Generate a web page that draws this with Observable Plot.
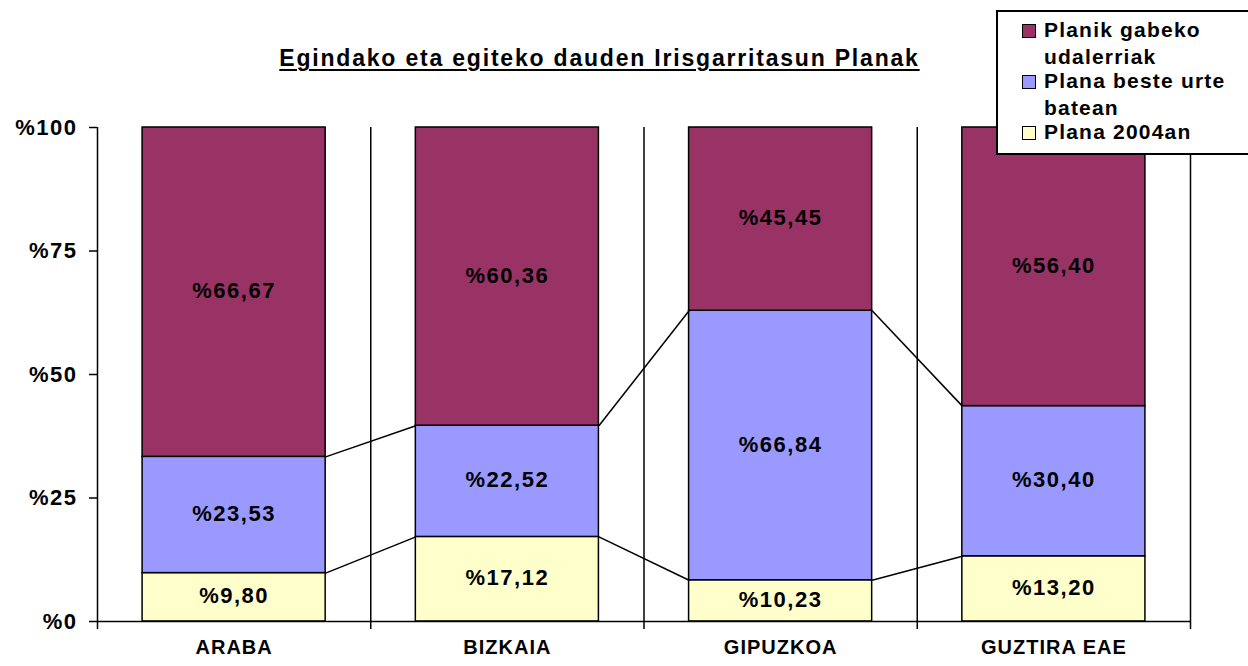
<!DOCTYPE html>
<html>
<head>
<meta charset="utf-8">
<script src="https://cdn.jsdelivr.net/npm/d3@7"></script>
<script src="https://cdn.jsdelivr.net/npm/@observablehq/plot@0.6"></script>
<style>
  html, body { margin: 0; padding: 0; background: #fff; }
  #wrap { position: relative; width: 1248px; height: 666px; overflow: hidden; font-family: "Liberation Sans", Arial, sans-serif; }
  #chart { position: absolute; left: 0; top: 0; }
  #title { position: absolute; left: 0; width: 1199px; top: 44px; text-align: center; font-weight: bold; font-size: 23px; letter-spacing: 1.8px; line-height: 28px; text-decoration: underline; text-decoration-thickness: 2px; text-underline-offset: 3px; color: #000; }
  #legend { position: absolute; left: 996px; top: 10px; width: 262px; height: 145px; border: 2px solid #000; background: #fff; box-sizing: border-box; font-weight: bold; font-size: 21px; letter-spacing: 1.2px; }
  .li { position: absolute; left: 24px; line-height: 26px; white-space: nowrap; }
  .sw { display: inline-block; width: 14px; height: 14px; border: 1.5px solid #000; margin-right: 8px; vertical-align: -1px; box-sizing: border-box; }
  .cont { position: absolute; left: 46px; line-height: 26px; white-space: nowrap; }
</style>
</head>
<body>
<div id="wrap">
  <div id="chart"></div>
  <div id="title"></div>
  <div id="legend"></div>
</div>
<script>
const categories = ["ARABA", "BIZKAIA", "GIPUZKOA", "GUZTIRA EAE"];
const seriesNames = ["Plana 2004an", "Plana beste urte batean", "Planik gabeko udalerriak"];
const plana2004 = [9.80, 17.12, 10.23, 13.20];
const planaBeste = [23.53, 22.52, 66.84, 30.40];
const planikGabe = [66.67, 60.36, 45.45, 56.40];
const yTicks = [0, 0.25, 0.5, 0.75, 1];
const yTickLabels = ["%0", "%25", "%50", "%75", "%100"];
const colors = ["#FFFFCC", "#9999FF", "#993366"];
const titleText = "Egindako eta egiteko dauden Irisgarritasun Planak";

const seriesValues = [plana2004, planaBeste, planikGabe];
const rows = [];
seriesValues.forEach((vals, s) => vals.forEach((v, i) => rows.push({i, cat: categories[i], series: seriesNames[s], value: v})));

const pad = 0.165;
const totals = categories.map((c, i) => seriesValues.reduce((a, vals) => a + vals[i], 0));
const links = [];
for (let s = 0; s < 2; s++) {
  const cum = categories.map((c, i) => seriesValues.slice(0, s + 1).reduce((a, vals) => a + vals[i], 0) / totals[i]);
  for (let i = 0; i < categories.length - 1; i++) {
    links.push({x1: i + 1 - pad, y1: cum[i], x2: i + 1 + pad, y2: cum[i + 1]});
  }
}

const fmt = v => "%" + v.toFixed(2).replace(".", ",");

const chart = Plot.plot({
  width: 1248,
  height: 666,
  marginTop: 127,
  marginBottom: 45,
  marginLeft: 97,
  marginRight: 58,
  style: {fontFamily: "'Liberation Sans', Arial, sans-serif", background: "transparent"},
  x: {domain: [0, categories.length], axis: null},
  y: {domain: [0, 1], axis: null},
  color: {domain: seriesNames, range: colors},
  marks: [
    Plot.ruleX(d3.range(1, categories.length + 1), {y1: 0, y2: 1, stroke: "#000", strokeWidth: 1.5}),
    Plot.axisX(d3.range(0, categories.length + 1), {tickSize: 8, tickFormat: () => "", strokeWidth: 1.5, strokeOpacity: 1}),
    Plot.axisX(d3.range(categories.length).map(i => i + 0.5), {tickSize: 0, tickPadding: 18, tickFormat: v => categories[Math.floor(v)], fontSize: 20, fontWeight: "bold", fill: "#000", className: "catlab"}),
    Plot.axisY(yTicks, {tickSize: 8, tickPadding: 12, tickFormat: v => yTickLabels[yTicks.indexOf(v)], fontSize: 22, fontWeight: "bold", fill: "#000", strokeWidth: 1.5, strokeOpacity: 1}),
    Plot.ruleX([0], {y1: 0, y2: 1, stroke: "#000", strokeWidth: 1.5}),
    Plot.rectY(rows, Plot.stackY({x1: d => d.i + pad, x2: d => d.i + 1 - pad, y: "value", fill: "series", offset: "normalize", stroke: "#000", strokeWidth: 1.5})),
    Plot.link(links, {x1: "x1", y1: "y1", x2: "x2", y2: "y2", stroke: "#000", strokeWidth: 1.5}),
    Plot.text(rows, Plot.stackY({x: d => d.i + 0.5, y: "value", offset: "normalize", text: d => fmt(d.value), fontSize: 22, fontWeight: "bold", fill: "#000", dy: -1})),
    Plot.ruleY([0], {x1: 0, x2: categories.length, stroke: "#000", strokeWidth: 1.5})
  ]
});
chart.querySelectorAll("text").forEach(t => t.setAttribute("letter-spacing", "1.5"));
chart.querySelectorAll(".catlab text").forEach(t => t.setAttribute("letter-spacing", "1"));
document.getElementById("chart").appendChild(chart);
document.getElementById("title").textContent = titleText;

const legendItems = [
  {lines: ["Planik gabeko", "udalerriak"], color: colors[2]},
  {lines: ["Plana beste urte", "batean"], color: colors[1]},
  {lines: ["Plana 2004an"], color: colors[0]}
];
const leg = document.getElementById("legend");
let yPos = 5;
legendItems.forEach(it => {
  const d = document.createElement("div");
  d.className = "li";
  d.style.top = yPos + "px";
  d.innerHTML = `<span class="sw" style="background:${it.color}"></span>${it.lines[0]}`;
  leg.appendChild(d);
  yPos += 27;
  for (let k = 1; k < it.lines.length; k++) {
    const c = document.createElement("div");
    c.className = "cont";
    c.style.top = yPos + "px";
    c.textContent = it.lines[k];
    leg.appendChild(c);
    yPos += 24;
  }
});
</script>
</body>
</html>
